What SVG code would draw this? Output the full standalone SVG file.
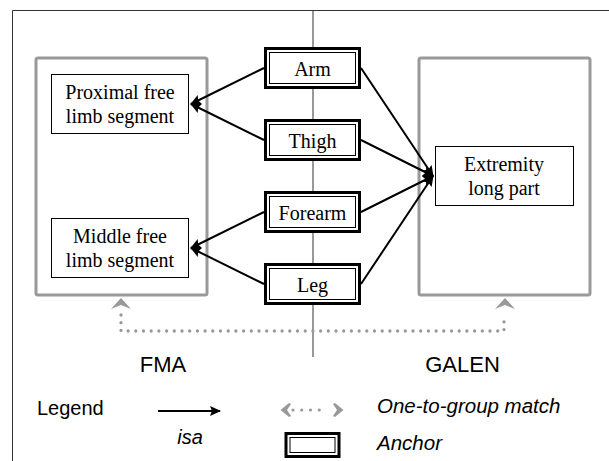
<svg xmlns="http://www.w3.org/2000/svg" width="609" height="461" viewBox="0 0 609 461">
<defs>
<style>
.serif{font-family:"Liberation Serif","Times New Roman",serif;font-size:20px;fill:#000;text-anchor:middle}
.sans{font-family:"Liberation Sans",Arial,sans-serif;fill:#000}
.group{fill:none;stroke:#999;stroke-width:3}
.concept{fill:#fff;stroke:#000;stroke-width:1}
.anc-out{fill:#fff;stroke:#000;stroke-width:3}
.anc-in{fill:none;stroke:#000;stroke-width:1}
.isa{stroke:#000;stroke-width:2;fill:none;marker-end:url(#ah)}
.dots{stroke:#999;stroke-width:3.3;fill:none;stroke-linecap:round;stroke-dasharray:0 7.7}
.ghead{fill:#999}
</style>
<marker id="ah" markerUnits="userSpaceOnUse" markerWidth="12" markerHeight="10" refX="10" refY="5" orient="auto">
<path d="M0,0 L11,5 L0,10 L2,5 z" fill="#000"/>
</marker>
</defs>
<rect width="609" height="461" fill="#fff"/>
<g id="frame" stroke="#333" stroke-width="1" fill="none">
<path d="M12.5,461 V10.5 H609"/>
<path d="M313,10.5 V357"/>
</g>
<g id="fma-group"><rect class="group" x="36" y="58" width="171" height="237" rx="2"/></g>
<g id="galen-group"><rect class="group" x="419" y="58" width="171" height="237" rx="2"/></g>
<g id="connectors">
<path class="isa" d="M264,68 L191,104"/>
<path class="isa" d="M264,140 L191,104"/>
<path class="isa" d="M264,212 L191,248"/>
<path class="isa" d="M264,284 L191,248"/>
<path class="isa" d="M361,68 L433,176"/>
<path class="isa" d="M361,140 L433,176"/>
<path class="isa" d="M361,212 L433,176"/>
<path class="isa" d="M361,284 L433,176"/>
<path class="dots" d="M121,315 V331 H504 V315"/>
<polygon class="ghead" points="121,298 131,309 121,305 111,309"/>
<polygon class="ghead" points="505,298 515,309 505,305 495,309"/>
</g>
<g id="proximal"><rect class="concept" x="51.5" y="74.5" width="137" height="59"/><text class="serif" x="120" y="99">Proximal free</text><text class="serif" x="120" y="123">limb segment</text></g>
<g id="middle"><rect class="concept" x="51.5" y="218.5" width="137" height="59"/><text class="serif" x="120" y="243">Middle free</text><text class="serif" x="120" y="267">limb segment</text></g>
<g id="extremity"><rect class="concept" x="435.5" y="146.5" width="138" height="59"/><text class="serif" x="504" y="171">Extremity</text><text class="serif" x="504" y="195">long part</text></g>
<g id="arm"><rect class="anc-out" x="265.5" y="48.5" width="94" height="39"/><rect class="anc-in" x="269.5" y="52.5" width="86" height="31"/><text class="serif" x="312.5" y="76">Arm</text></g>
<g id="thigh"><rect class="anc-out" x="265.5" y="120.5" width="94" height="39"/><rect class="anc-in" x="269.5" y="124.5" width="86" height="31"/><text class="serif" x="312.5" y="148">Thigh</text></g>
<g id="forearm"><rect class="anc-out" x="265.5" y="192.5" width="94" height="39"/><rect class="anc-in" x="269.5" y="196.5" width="86" height="31"/><text class="serif" x="312.5" y="220">Forearm</text></g>
<g id="leg"><rect class="anc-out" x="265.5" y="264.5" width="94" height="39"/><rect class="anc-in" x="269.5" y="268.5" width="86" height="31"/><text class="serif" x="312.5" y="292">Leg</text></g>
<g id="labels">
<text class="sans" x="163" y="372" font-size="22" text-anchor="middle">FMA</text>
<text class="sans" x="462.5" y="372" font-size="22" text-anchor="middle">GALEN</text>
</g>
<g id="legend">
<text class="sans" x="37" y="415" font-size="20">Legend</text>
<path d="M158,411 H220" stroke="#000" stroke-width="2" marker-end="url(#ah)"/>
<text class="sans" x="190" y="444" font-size="20" font-style="italic" text-anchor="middle">isa</text>
<path d="M293,410 H328" stroke="#999" stroke-width="3.2" stroke-linecap="round" stroke-dasharray="0 8.75" fill="none"/>
<polygon class="ghead" points="280.5,410 289,403 291,404 287,410 291,416 289,417"/>
<polygon class="ghead" points="343.5,410 335,403 333,404 337,410 333,416 335,417"/>
<rect x="286" y="433.5" width="53" height="23" fill="#fff" stroke="#000" stroke-width="3"/>
<rect x="290" y="437.5" width="45" height="15" fill="none" stroke="#000" stroke-width="1"/>
<text class="sans" x="377" y="413" font-size="20.5" font-style="italic">One-to-group match</text>
<text class="sans" x="377" y="450" font-size="20.5" font-style="italic">Anchor</text>
</g>
</svg>
